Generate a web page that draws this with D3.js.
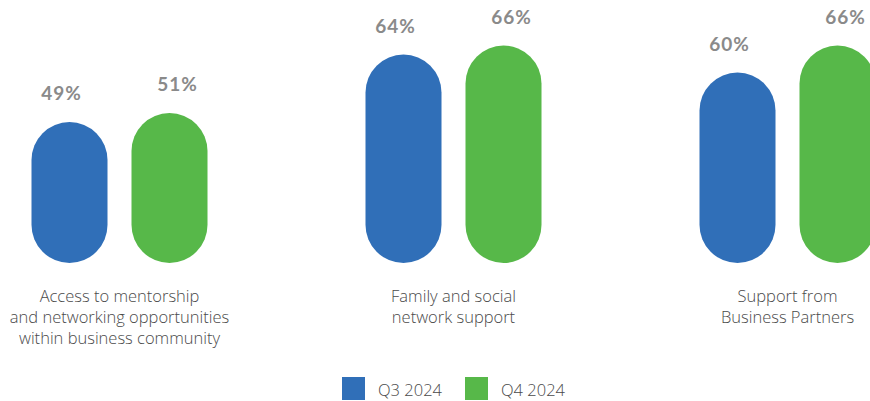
<!DOCTYPE html>
<html>
<head>
<meta charset="utf-8">
<script src="https://cdn.jsdelivr.net/npm/d3@7"></script>
<style>
  html, body { margin: 0; padding: 0; background: #fff; }
  svg { display: block; }
</style>
</head>
<body>
<svg id="chart" width="870" height="401"></svg>
<script>
// Share of respondents citing each support source, by quarter
const categories = [
  ["Access to mentorship", "and networking opportunities", "within business community"],
  ["Family and social", "network support"],
  ["Support from", "Business Partners"]
];
const seriesNames = ["Q3 2024", "Q4 2024"];
const q3Values = [49, 64, 60];
const q4Values = [51, 66, 66];
const seriesColors = ["#306FB8", "#57B849"];

const svg = d3.select("#chart");
const baseY = 263;

// Group positions across the width
const x0 = d3.scaleBand()
  .domain(d3.range(categories.length))
  .range([-47.5, 954.5]);

const x1 = d3.scalePoint()
  .domain(d3.range(seriesNames.length))
  .range([-50, 50]);

const y = d3.scaleLinear().domain([0, 66]).range([342.5, 45.5]);

const barW = 76;
const series = [q3Values, q4Values];

const groups = svg.selectAll("g.group")
  .data(categories)
  .join("g")
  .attr("class", "group")
  .attr("transform", (d, i) => `translate(${x0(i) + x0.bandwidth() / 2},0)`);

groups.each(function (cat, ci) {
  const g = d3.select(this);
  series.forEach((vals, si) => {
    const v = vals[ci];
    const cx = x1(si);
    g.append("rect")
      .attr("x", cx - barW / 2)
      .attr("y", y(v))
      .attr("width", barW)
      .attr("height", baseY - y(v))
      .attr("rx", barW / 2)
      .attr("ry", barW / 2)
      .attr("fill", seriesColors[si]);
    g.append("text")
      .attr("x", cx + (si === 0 ? -8 : 8))
      .attr("y", y(v) - 22)
      .attr("text-anchor", "middle")
      .attr("font-family", "Lato, sans-serif")
      .attr("font-weight", 700)
      .attr("font-size", 19)
      .attr("letter-spacing", 1)
      .attr("fill", "#8A8A8A")
      .text(v + "%");
  });
  const t = g.append("text")
    .attr("text-anchor", "middle")
    .attr("font-family", "'Open Sans', sans-serif")
    .attr("font-weight", 300)
    .attr("font-size", 16.5)
    .attr("fill", "#4A4A4A");
  cat.forEach((line, li) => {
    t.append("tspan").attr("x", 0).attr("y", 302 + li * 21).text(line);
  });
});

// Legend
const legend = svg.append("g").attr("transform", "translate(342,377)");
const legendX = [0, 123];
seriesNames.forEach((name, i) => {
  const lg = legend.append("g").attr("transform", `translate(${legendX[i]},0)`);
  lg.append("rect").attr("width", 23).attr("height", 23).attr("fill", seriesColors[i]);
  lg.append("text")
    .attr("x", 36)
    .attr("y", 19)
    .attr("font-family", "'Open Sans', sans-serif")
    .attr("font-weight", 300)
    .attr("font-size", 16.5)
    .attr("fill", "#4A4A4A")
    .text(name);
});
</script>
</body>
</html>
